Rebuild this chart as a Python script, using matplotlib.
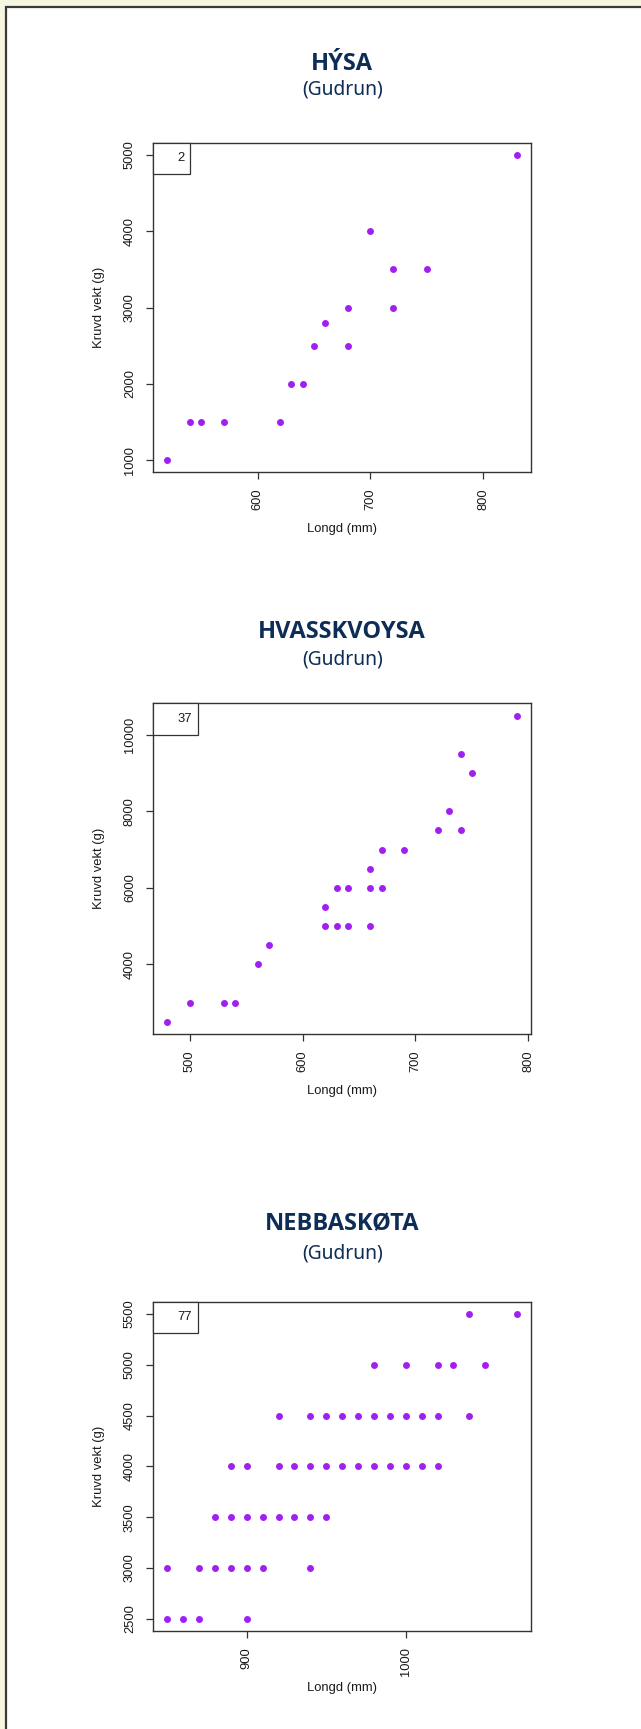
import matplotlib
matplotlib.use("Agg")
import matplotlib.pyplot as plt
from matplotlib.patches import Rectangle

# ---------------- data ----------------
titles = ["HÝSA", "HVASSKVOYSA", "NEBBASKØTA"]
subtitle = "(Gudrun)"
legend_labels = ["2", "37", "77"]

hysa_len = [520, 540, 550, 570, 620, 630, 640, 650, 660, 680, 680, 700, 720, 720, 750, 830]
hysa_wt = [1000, 1500, 1500, 1500, 1500, 2000, 2000, 2500, 2800, 3000, 2500, 4000, 3500, 3000, 3500, 5000]

hvass_len = [480, 500, 530, 540, 560, 570, 620, 620, 630, 630, 640, 640, 660, 660, 660,
             670, 670, 690, 720, 730, 740, 740, 750, 790]
hvass_wt = [2500, 3000, 3000, 3000, 4000, 4500, 5500, 5000, 5000, 6000, 5000, 6000, 5000, 6000, 6500,
            6000, 7000, 7000, 7500, 8000, 7500, 9500, 9000, 10500]

nebba_len = [850, 860, 870, 900,
             850, 870, 880, 890, 900, 910, 940,
             880, 890, 900, 910, 920, 930, 940, 950,
             890, 900, 920, 930, 940, 950, 960, 970, 980, 990, 1000, 1010, 1020,
             920, 940, 950, 960, 970, 980, 990, 1000, 1010, 1020, 1040,
             980, 1000, 1020, 1030, 1050,
             1040, 1070]
nebba_wt = [2500] * 4 + [3000] * 7 + [3500] * 8 + [4000] * 13 + [4500] * 11 + [5000] * 5 + [5500] * 2

xticks = [[600, 700, 800], [500, 600, 700, 800], [900, 1000]]
yticks = [[1000, 2000, 3000, 4000, 5000], [4000, 6000, 8000, 10000],
          [2500, 3000, 3500, 4000, 4500, 5000, 5500]]

xlabel = "Longd (mm)"
ylabel = "Kruvd vekt (g)"

series = [(hysa_len, hysa_wt), (hvass_len, hvass_wt), (nebba_len, nebba_wt)]

# ---------------- layout ----------------
W, H = 641, 1729
fig = plt.figure(figsize=(W / 100, H / 100), dpi=100)
fig.patch.set_facecolor("#f6f6e1")
fig.patches.append(Rectangle((5.5 / W, -0.01), 1.05, 1 - 6.5 / H + 0.01,
                             transform=fig.transFigure, facecolor="white",
                             edgecolor="#3a3a3a", linewidth=1.6, zorder=-5))

ax_left, ax_right = 153.3, 531.0
ax_tops = [142.7, 703.3, 1301.7]
ax_bots = [472.3, 1034.0, 1631.0]
title_base = [70.0, 638.0, 1230.5]
sub_base = [94.0, 664.0, 1258.0]
legend_w = [37, 44.4, 44.4]
legend_h = 31.5

navy = "#0d2d56"
tick_font = "Liberation Sans"

for i, (xs, ys) in enumerate(series):
    top, bot = ax_tops[i], ax_bots[i]
    ax = fig.add_axes([ax_left / W, 1 - bot / H, (ax_right - ax_left) / W, (bot - top) / H])
    ax.set_zorder(2)
    ax.set_facecolor("white")
    ax.scatter(xs, ys, s=25, color="#a020f0", linewidths=0, zorder=3)
    xr = max(xs) - min(xs)
    yr = max(ys) - min(ys)
    ax.set_xlim(min(xs) - 0.04 * xr, max(xs) + 0.04 * xr)
    ax.set_ylim(min(ys) - 0.04 * yr, max(ys) + 0.04 * yr)
    ax.set_xticks(xticks[i])
    ax.set_yticks(yticks[i])
    ax.set_xticklabels([str(v) for v in xticks[i]], rotation=90,
                       fontsize=9.3, family=tick_font, color="#1a1a1a")
    ax.set_yticklabels([str(v) for v in yticks[i]], rotation=90, va="center",
                       fontsize=9.3, family=tick_font, color="#1a1a1a")
    ax.tick_params(axis="both", length=5, width=0.9, color="#333333")
    ax.tick_params(axis="x", pad=6.5)
    ax.tick_params(axis="y", pad=7.5)
    for sp in ax.spines.values():
        sp.set_color("#333333")
        sp.set_linewidth(1.0)
    pw = ax_right - ax_left
    ph = bot - top
    ax.set_xlabel(xlabel, fontsize=9.4, family=tick_font, color="#1a1a1a", va="center")
    ax.xaxis.set_label_coords(0.5, -57.0 / ph)
    ax.set_ylabel(ylabel, fontsize=9.4, family=tick_font, color="#1a1a1a", va="center")
    ax.yaxis.set_label_coords(-54.0 / pw, 0.5)
    # legend box (top-left)
    ax.add_patch(Rectangle((0, 1 - legend_h / ph), legend_w[i] / pw, legend_h / ph,
                           transform=ax.transAxes, facecolor="white",
                           edgecolor="#333333", linewidth=0.9, zorder=4, clip_on=False))
    ax.text(24.0 / pw, 1 - (legend_h / 2) / ph, legend_labels[i], transform=ax.transAxes,
            ha="left", va="center", fontsize=9.4, family=tick_font, color="#1a1a1a", zorder=5)

    cx = (ax_left + ax_right) / 2 / W
    fig.text(cx, 1 - title_base[i] / H, titles[i], ha="center", va="baseline",
             fontsize=17, fontweight="bold", family="Open Sans", color=navy)
    fig.text(cx, 1 - sub_base[i] / H, subtitle, ha="center", va="baseline",
             fontsize=13.8, family="Noto Sans", color=navy)

fig.savefig("out.png", dpi=100, facecolor=fig.get_facecolor())
